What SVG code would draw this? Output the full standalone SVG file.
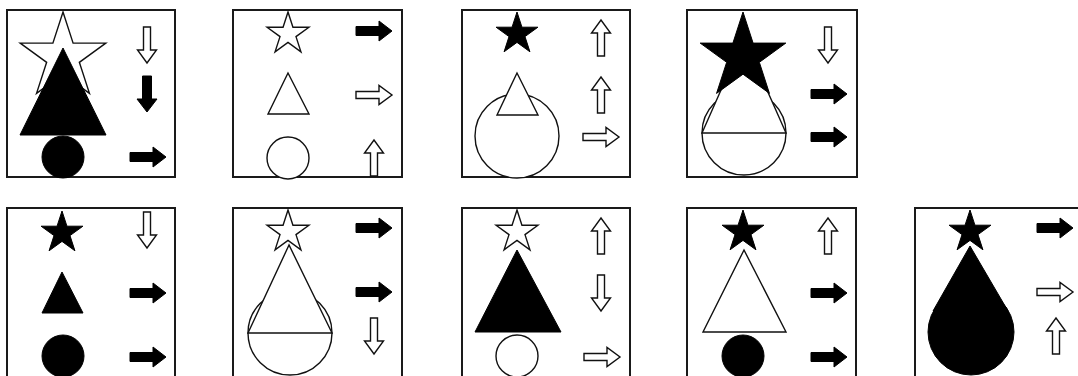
<svg xmlns="http://www.w3.org/2000/svg" xmlns:xlink="http://www.w3.org/1999/xlink" width="1078" height="376" viewBox="0 0 1078 376">
<style>
.frame{fill:#fff;stroke:#1a1a1a;stroke-width:2}
.o{fill:#fff;stroke:#111;stroke-width:1.4}
.f{fill:#000;stroke:#000;stroke-width:1}
.ln{stroke:#111;stroke-width:1.4}
</style>
<defs>
<polygon id="starB" points="0,-45 10.1,-13.9 42.8,-13.9 16.35,5.31 26.45,36.4 0,17.19 -26.45,36.4 -16.35,5.31 -42.8,-13.9 -10.1,-13.9"/>
<polygon id="starS" points="0,-22 4.94,-6.8 20.92,-6.8 7.99,2.6 12.93,17.8 0,8.4 -12.93,17.8 -7.99,2.6 -20.92,-6.8 -4.94,-6.8"/>
<path id="arF" d="M-18,-4.5 H5 V-10 L18,0 L5,10 V4.5 H-18 Z"/>
<path id="arO" d="M-18,-3.5 H5 V-9.5 L18,0 L5,9.5 V3.5 H-18 Z"/>
</defs>
<rect width="1078" height="376" fill="#fff"/>

<g id="p1">
<rect class="frame" x="7" y="10" width="168" height="167"/>
<use href="#starB" class="o" transform="translate(63,57)"/>
<polygon class="f" points="63,48 20,135 106,135"/>
<circle class="f" cx="63" cy="157" r="21"/>
<use href="#arO" class="o" transform="translate(147,45) rotate(90)"/>
<use href="#arF" class="f" transform="translate(147,94) rotate(90)"/>
<use href="#arF" class="f" transform="translate(148,157)"/>
</g>

<g id="p2">
<rect class="frame" x="233" y="10" width="169" height="167"/>
<use href="#starS" class="o" transform="translate(288,34)"/>
<polygon class="o" points="288,73 268,114 309,114"/>
<circle class="o" cx="288" cy="158" r="21"/>
<use href="#arF" class="f" transform="translate(374,31)"/>
<use href="#arO" class="o" transform="translate(374,95)"/>
<use href="#arO" class="o" transform="translate(374,158) rotate(-90)"/>
</g>

<g id="p3">
<rect class="frame" x="462" y="10" width="168" height="167"/>
<use href="#starS" class="f" transform="translate(517,34)"/>
<circle class="o" cx="517" cy="136" r="42"/>
<polygon class="o" points="517,73 497,115 538,115"/>
<use href="#arO" class="o" transform="translate(601,38) rotate(-90)"/>
<use href="#arO" class="o" transform="translate(601,95) rotate(-90)"/>
<use href="#arO" class="o" transform="translate(601,137)"/>
</g>

<g id="p4">
<rect class="frame" x="687" y="10" width="170" height="167"/>
<circle class="o" cx="744" cy="133" r="42"/>
<polygon class="o" points="744,38 702,133 786,133"/>
<use href="#starB" class="f" transform="translate(743,57)"/>
<use href="#arO" class="o" transform="translate(828,45) rotate(90)"/>
<use href="#arF" class="f" transform="translate(829,94)"/>
<use href="#arF" class="f" transform="translate(829,137)"/>
</g>

<g id="p5">
<rect class="frame" x="7" y="208" width="168" height="180"/>
<use href="#starS" class="f" transform="translate(62,233)"/>
<polygon class="f" points="62,272 42,313 83,313"/>
<circle class="f" cx="63" cy="356" r="21"/>
<use href="#arO" class="o" transform="translate(147,230) rotate(90)"/>
<use href="#arF" class="f" transform="translate(148,293)"/>
<use href="#arF" class="f" transform="translate(148,357)"/>
</g>

<g id="p6">
<rect class="frame" x="233" y="208" width="169" height="180"/>
<circle class="o" cx="290" cy="333" r="42"/>
<polygon class="o" points="289,245 248,333 332,333"/>
<use href="#starS" class="o" transform="translate(288,232)"/>
<use href="#arF" class="f" transform="translate(374,228)"/>
<use href="#arF" class="f" transform="translate(374,292)"/>
<use href="#arO" class="o" transform="translate(374,336) rotate(90)"/>
</g>

<g id="p7">
<rect class="frame" x="462" y="208" width="168" height="180"/>
<polygon class="f" points="517,250 475,332 561,332"/>
<use href="#starS" class="o" transform="translate(517,232)"/>
<circle class="o" cx="517" cy="356" r="21"/>
<use href="#arO" class="o" transform="translate(601,236) rotate(-90)"/>
<use href="#arO" class="o" transform="translate(601,293) rotate(90)"/>
<use href="#arO" class="o" transform="translate(602,357)"/>
</g>

<g id="p8">
<rect class="frame" x="687" y="208" width="169" height="180"/>
<polygon class="o" points="744,250 703,332 786,332"/>
<use href="#starS" class="f" transform="translate(743,232)"/>
<circle class="f" cx="743" cy="356" r="21"/>
<use href="#arO" class="o" transform="translate(828,236) rotate(-90)"/>
<use href="#arF" class="f" transform="translate(829,293)"/>
<use href="#arF" class="f" transform="translate(829,357)"/>
</g>

<g id="p9">
<rect class="frame" x="915" y="208" width="180" height="180"/>
<circle class="f" cx="971" cy="332" r="43"/>
<polygon class="f" points="970,246 933,311 1008,311"/>
<use href="#starS" class="f" transform="translate(970,232)"/>
<use href="#arF" class="f" transform="translate(1055,228)"/>
<use href="#arO" class="o" transform="translate(1055,292)"/>
<use href="#arO" class="o" transform="translate(1056,336) rotate(-90)"/>
</g>
</svg>
